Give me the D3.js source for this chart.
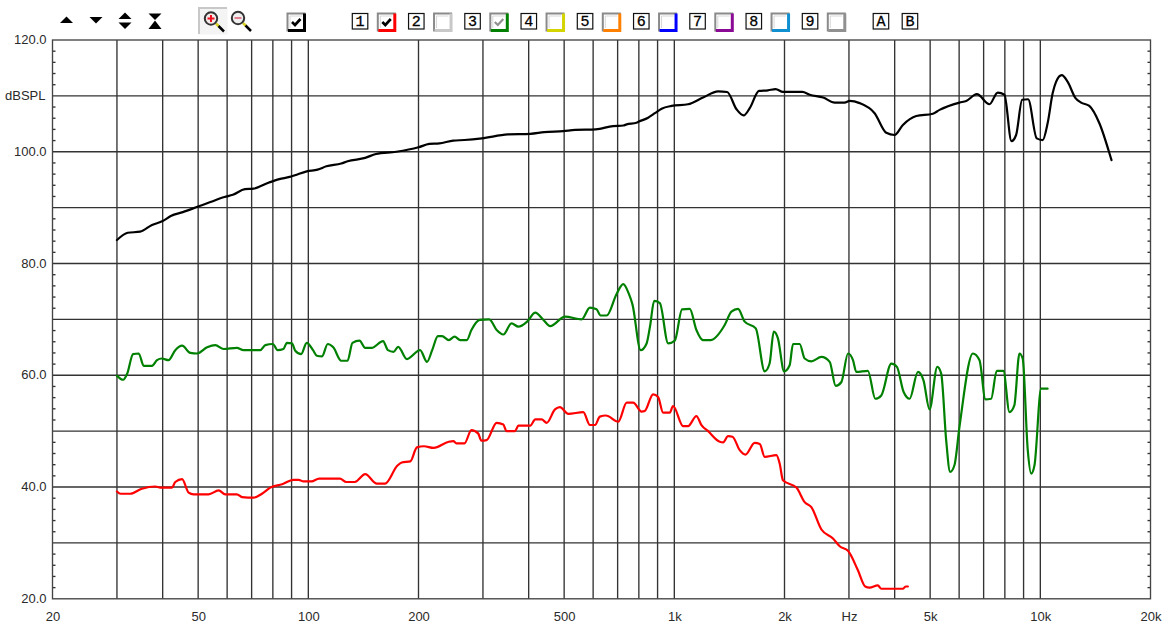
<!DOCTYPE html>
<html><head><meta charset="utf-8">
<script src="https://cdn.jsdelivr.net/npm/d3@7/dist/d3.min.js"></script>
<style>html,body{margin:0;padding:0;background:#fff}svg{display:block}text{font-family:"Liberation Sans",Arial,sans-serif}</style>
</head><body><div id="chart"></div>
<script>
const blackFreq=[30,32.1,34.7,37.4,40,42.1,45.4,50,54,59,62.2,67.1,70.8,78.1,83.3,88.9,91.9,99,106,112,123,128,143,153,174,200,214,228,249,267,298,351,404,441,497,536,610,680,725,741,788,800,848,885,923,983,1090,1198,1317,1394,1479,1547,1607,1704,1802,1892,1981,2238,2344,2550,2743,2919,3013,3209,3526,3794,3998,4212,4582,5085,5305,6014,6274,6708,7260,7649,7978,8340,8586,8920,9260,9777,10150,10470,10810,11040,11440,11880,12477,12930,13610,14500,15600,15650];
const blackDb=[84.2,85.5,85.7,86.9,87.6,88.5,89.2,90.2,91,91.9,92.3,93.3,93.4,94.5,95.1,95.5,95.8,96.5,96.8,97.4,97.9,98.3,98.9,99.6,100,100.8,101.4,101.5,102,102.1,102.4,103.1,103.2,103.5,103.7,103.9,104,104.6,104.7,104.9,105.2,105.4,106.1,106.9,107.7,108.2,108.5,109.7,110.8,110.7,107.6,106.5,107.8,110.9,111,111.2,110.7,110.7,110.2,109.7,108.8,108.8,109.1,108.7,106.9,103.4,103,104.8,106.4,106.8,107.5,108.8,109.1,110.3,108.5,110.6,110.2,101.9,103,109.3,109.4,102.4,102.1,105.1,110.5,112.5,113.7,112.5,109.6,108.8,108.2,105.1,98.8,98.5];
const greenFreq=[30,31.2,32,33.2,34.4,35.5,37.4,38.6,39.8,41.5,43.3,45.2,47.6,49.7,52.9,55.7,58.7,63.8,66.5,73.9,76.3,80,82.4,85.5,87.4,90.2,92.1,95.6,99,103,105.5,109,113,117,123,128,132,138,143,149,160,165,171,176,186,202,211,218,226,232,242,251,260,271,279,294,312,327,341,359,375,396,417,439,458,503,558,588,613,629,653,696,725,751,769,809,840,858,881,913,962,1003,1050,1102,1149,1198,1255,1373,1432,1493,1557,1669,1766,1821,1869,1919,1995,2066,2110,2200,2270,2368,2523,2658,2760,2861,2982,3077,3142,3380,3541,3677,3917,4057,4232,4395,4630,4795,4981,5230,5360,5530,5670,5825,6014,6543,6821,7080,7339,7601,7925,8237,8491,8770,8950,9240,9440,9640,10050,10470];
const greenDb=[59.9,59.2,60.3,63.8,63.9,61.7,61.7,62.7,63,62.7,64.5,65.3,64,63.9,65,65.4,64.7,64.9,64.5,64.5,65.4,65.6,64.5,64.7,65.8,65.7,64.4,63.8,65.8,64.5,63.5,63.4,65.6,65,62.6,62.6,65.8,66.2,64.9,64.9,66.1,64.5,64.2,65.1,62.9,64.5,62.4,64.5,67,67,66.3,66.9,66.3,66.3,68.1,69.9,70,68.1,67.3,69.3,68.7,69.6,71.2,69.9,68.8,70.5,70,72.1,71.8,70.7,70.7,74.6,76.3,74.6,72.6,64.5,65.7,68.7,73.3,72.9,65.7,66.2,71.8,71.9,68.1,66.3,66.3,69,71.4,71.9,69.6,68.4,60.7,62.1,67.8,66.6,60.7,61.8,65.6,65.6,63,62.5,63.3,62.4,58.1,58.8,63.9,62.7,60.6,60.8,55.8,56.4,62.1,61.5,57,55.8,60.6,59.1,53.9,61.5,60.3,48.4,42.7,43.9,50.8,63.9,62.7,55.7,55.8,60.8,60.8,53.4,54.6,63.9,63,46.6,42.4,43.9,57.6,57.6];
const redFreq=[30,30.7,32.6,35.1,38.2,39.4,42.4,43.3,45.2,47.1,48.6,53.4,56.9,59.3,63.8,65.9,70.9,74.7,78.7,84.8,91.1,94.1,97,102,107,122,127,134,143,154,162,175,180,190,198,207,220,242,249,254,267,279,291,297,307,327,341,348,367,375,404,417,434,448,472,487,513,564,588,607,626,650,703,741,772,814,830,875,903,932,972,992,1057,1090,1149,1186,1237,1331,1360,1402,1442,1509,1564,1658,1712,1766,1901,1940,1981,2156,2270,2368,2523,2713,2831,2982,3174,3323,3415,3598,3677,4212,4284,4347];
const redDb=[39.2,38.8,38.8,39.7,40.1,39.9,39.9,40.9,41.4,39,38.7,38.7,39.4,38.7,38.7,38.2,38.1,38.8,39.9,40.5,41.3,41.3,41,41,41.5,41.5,40.9,40.9,42.3,40.6,40.6,43.8,44.4,44.6,47.1,47.3,47,48.1,48.2,47.8,47.8,50.2,49.6,48.3,48.4,51.5,51.2,50,50,51,51,52.1,52.1,51.5,53.9,54.3,53.1,53.4,51.1,51.1,52.6,52.8,51.7,55.1,55.1,53.5,53.6,56.6,56.1,53.3,53.3,54.5,50.9,50.9,52.7,51.1,50,48.1,48,49.1,49,46.6,45.8,47.9,47.7,45.4,45.7,44.2,41.2,39.9,37.3,36.4,32.4,30.8,29.4,28.6,25.1,22.2,22,22.4,21.8,21.8,22.2,22.2];

const gridFreqs=[30,40,50,60,70,80,90,100,200,300,400,500,600,700,800,900,1000,2000,3000,4000,5000,6000,7000,8000,9000,10000];
const gridDb=[100,110,90,80,70,60,50,40,30];
const minorDb=[22,24,26,28,32,34,36,38,42,44,46,48,52,54,56,58,62,64,66,68,72,74,76,78,82,84,86,88,92,94,96,98,102,104,106,108,112,114,116,118];
const xTickFreqs=[20,50,100,200,500,1000,2000,3000,5000,10000,20000];
const xTickLabels=["20","50","100","200","500","1k","2k","Hz","5k","10k","20k"];
const yTickVals=[120,110,100,80,60,40,20];
const yTickLabels=["120.0","dBSPL","100.0","80.0","60.0","40.0","20.0"];
const traceLabels=["1","2","3","4","5","6","7","8","9"];
const traceColors=["#ff0000","#c8c8c8","#008000","#d4d400","#ff8000","#0000ff","#8a0a96","#1090d0","#909090"];

const W=1175,H=630,L=52.5,R=1150.5,T=40,B=598.8;
const svg=d3.select("#chart").append("svg").attr("width",W).attr("height",H);
const x=d3.scaleLog().domain([20,20000]).range([L,R]);
const y=d3.scaleLinear().domain([20,120]).range([B,T]);
const gridColor="#333";
const labelFont='"Liberation Sans",Arial,sans-serif';

const grid=svg.append("g").attr("stroke",gridColor).attr("stroke-width",1.35).attr("fill","none");
grid.selectAll("line.v").data(gridFreqs).join("line").attr("class","v")
  .attr("x1",d=>x(d)).attr("x2",d=>x(d)).attr("y1",T).attr("y2",B);
grid.selectAll("line.h").data(gridDb).join("line").attr("class","h")
  .attr("x1",L).attr("x2",R).attr("y1",d=>y(d)).attr("y2",d=>y(d));
grid.selectAll("line.ml").data(minorDb).join("line").attr("class","ml")
  .attr("x1",L).attr("x2",L+3).attr("y1",d=>y(d)).attr("y2",d=>y(d));
grid.selectAll("line.mr").data(minorDb).join("line").attr("class","mr")
  .attr("x1",R-3).attr("x2",R).attr("y1",d=>y(d)).attr("y2",d=>y(d));
svg.append("rect").attr("x",L).attr("y",T).attr("width",R-L).attr("height",B-T)
  .attr("fill","none").attr("stroke","#444").attr("stroke-width",1.35);

const xAxis=d3.axisBottom(x).tickValues(xTickFreqs).tickSize(0).tickPadding(0)
  .tickFormat((d,i)=>xTickLabels[i]);
const gx=svg.append("g").attr("transform",`translate(0,${B+13})`).call(xAxis);
gx.select(".domain").remove();
gx.selectAll("text").attr("font-size",13).attr("fill","#2a2a2a").style("font-family",labelFont);
const yAxis=d3.axisLeft(y).tickValues(yTickVals).tickSize(0).tickPadding(0)
  .tickFormat((d,i)=>yTickLabels[i]);
const gy=svg.append("g").attr("transform",`translate(${L-6},-0.5)`).call(yAxis);
gy.select(".domain").remove();
gy.selectAll("text").attr("font-size",13).attr("fill","#2a2a2a").style("font-family",labelFont);
gy.selectAll("text").filter((d,i)=>i===1).attr("dx",-1);

const line=d3.line().x(d=>x(d[0])).y(d=>y(d[1])).curve(d3.curveMonotoneX);
[[blackFreq,blackDb,"#000"],[greenFreq,greenDb,"#008000"],[redFreq,redDb,"#ff0000"]].forEach(([f,v,c])=>{
  svg.append("path").datum(d3.zip(f,v)).attr("d",line).attr("fill","none")
    .attr("stroke",c).attr("stroke-width",2.2).attr("stroke-linejoin","round").attr("stroke-linecap","round");
});

// toolbar
const tb=svg.append("g");
const tri=(pts)=>tb.append("polygon").attr("points",pts.join(" ")).attr("fill","#000");
tri(["60,23","73,23","66.5,16.5"]);
tri(["89.5,17","102.5,17","96,23.5"]);
tri(["118.5,19","131.5,19","125,12.5"]);tri(["118.5,22.5","131.5,22.5","125,29"]);
tri(["148.5,13.5","161.5,13.5","155,20"]);tri(["148.5,29","161.5,29","155,20.5"]);
function magnifier(cx,cy,plus){
  const g=tb.append("g");
  g.append("line").attr("x1",cx+5).attr("y1",cy+5).attr("x2",cx+8).attr("y2",cy+8).attr("stroke","#d8d020").attr("stroke-width",2.5);
  g.append("line").attr("x1",cx+7.5).attr("y1",cy+7.5).attr("x2",cx+13).attr("y2",cy+13).attr("stroke","#000").attr("stroke-width",2.5);
  g.append("circle").attr("cx",cx).attr("cy",cy).attr("r",6.2).attr("fill",plus?"#f4eaea":"#eee").attr("stroke","#333").attr("stroke-width",2);
  g.append("line").attr("x1",cx-3.5).attr("x2",cx+3.5).attr("y1",cy).attr("y2",cy).attr("stroke",plus?"#f01020":"#e08090").attr("stroke-width",2);
  if(plus)g.append("line").attr("y1",cy-3.5).attr("y2",cy+3.5).attr("x1",cx).attr("x2",cx).attr("stroke","#f01020").attr("stroke-width",2);
}
tb.append("rect").attr("x",198.5).attr("y",7.5).attr("width",29).attr("height",27).attr("fill","#f4f4f4");
tb.append("path").attr("d","M199,34V8H227").attr("fill","none").attr("stroke","#c8c8c8").attr("stroke-width",2);
magnifier(211,18.5,true);
magnifier(238,18,false);

function checkPath(g,x0,y0,col,w){
  g.append("path").attr("d",`M${x0+5.5},${y0+9.5}l3,3l5.5,-6`).attr("fill","none").attr("stroke",col).attr("stroke-width",w);
}
function checkbox(x0,y0,color,state){
  const g=tb.append("g");
  g.append("rect").attr("x",x0).attr("y",y0).attr("width",19.5).attr("height",19.5).attr("fill","#fff");
  g.append("path").attr("d",`M${x0+1},${y0+19}V${y0+1}H${x0+19}`).attr("fill","none").attr("stroke","#8a8a8a").attr("stroke-width",2);
  g.append("path").attr("d",`M${x0+1.5},${y0+18}H${x0+18}V${y0+1}`).attr("fill","none").attr("stroke",color).attr("stroke-width",3);
  g.append("path").attr("d",`M${x0+3.5},${y0+15.5}V${y0+3.5}H${x0+15.5}`).attr("fill","none").attr("stroke","#d8d8d8").attr("stroke-width",1);
  if(state==="on")checkPath(g,x0,y0,"#000",2.6);
  if(state==="dim")checkPath(g,x0,y0,"#909090",2.2);
}
checkbox(286.5,12.5,"#000","on");
function keyBox(x0,label){
  const g=tb.append("g");
  g.append("rect").attr("x",x0+.5).attr("y",13.5).attr("width",15.5).attr("height",15.5).attr("fill","#fff").attr("stroke","#111").attr("stroke-width",1.2);
  g.append("text").attr("x",x0+8.2).attr("y",26.3).attr("text-anchor","middle").attr("font-size",15).attr("font-weight",400)
    .style("font-family",'"Liberation Mono",monospace').attr("fill","#000").attr("stroke","#000").attr("stroke-width",0.3).text(label);
}
traceLabels.forEach((lab,i)=>{
  keyBox(351.8+i*56.25,lab);
  checkbox(376.8+i*56.25,12.5,traceColors[i],i===0?"on":i===2?"dim":"off");
});
keyBox(872.7,"A");
keyBox(901.7,"B");
</script></body></html>
